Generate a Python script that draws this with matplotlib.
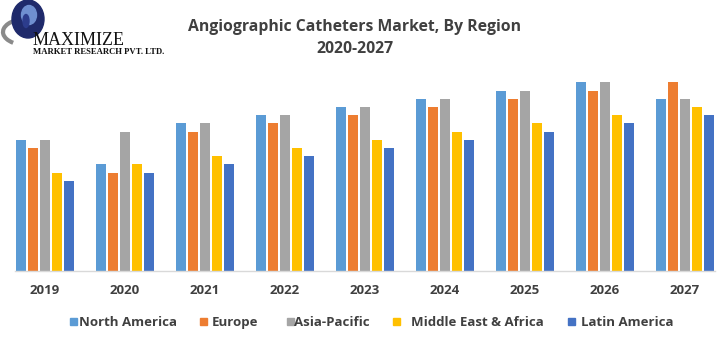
import matplotlib.pyplot as plt
import matplotlib.patches as patches
import numpy as np

# Market size by region (relative units)
years = ["2019", "2020", "2021", "2022", "2023", "2024", "2025", "2026", "2027"]
regions = ["North America", "Europe", "Asia-Pacific", "Middle East & Africa", "Latin America"]
north_america = [16, 13, 18, 19, 20, 21, 22, 23, 21]
europe = [15, 12, 17, 18, 19, 20, 21, 22, 23]
asia_pacific = [16, 17, 18, 19, 20, 21, 22, 23, 21]
mea = [12, 13, 14, 15, 16, 17, 18, 19, 20]
latin_america = [11, 12, 13, 14, 15, 16, 17, 18, 19]
colors = ["#5B9BD5", "#ED7D31", "#A5A5A5", "#FFC000", "#4472C4"]

W, H = 721, 337
fig = plt.figure(figsize=(W / 100, H / 100), dpi=100)
fig.patch.set_facecolor("white")

ax = fig.add_axes([15 / W, (H - 271) / H, 700 / W, 211 / H])
x = np.arange(len(years))
pitch = 0.15
width = 0.125
series = [north_america, europe, asia_pacific, mea, latin_america]
for i, (vals, name, c) in enumerate(zip(series, regions, colors)):
    ax.bar(x + (i - 2) * pitch, vals, width, color=c, label=name)

ax.set_xlim(-0.375, 8.375)
ax.set_ylim(0, 211 / 8.2)
ax.set_xticks(x)
ax.set_xticklabels(years, fontsize=9.5, fontweight="bold", color="#404040", family="Open Sans")
ax.tick_params(axis="x", length=0, pad=9)
ax.set_yticks([])
for s in ["top", "right", "left"]:
    ax.spines[s].set_visible(False)
ax.spines["bottom"].set_color("#D9D9D9")
ax.spines["bottom"].set_linewidth(1)

# title
fig.text(355 / W, 1 - 27 / H, "Angiographic Catheters Market, By Region", ha="center", va="center",
         fontsize=11.3, fontweight="bold", color="#404040", family="Open Sans")
fig.text(355 / W, 1 - 49 / H, "2020-2027", ha="center", va="center",
         fontsize=11.3, fontweight="bold", color="#404040", family="Open Sans")

# legend row, laid out by hand so every label shares one baseline
leg = fig.add_axes([0, 0, 1, 1], zorder=-1)
leg.set_xlim(0, W)
leg.set_ylim(H, 0)
leg.axis("off")
key_x = [70, 200, 287, 393, 568]
text_x = [79, 212, 294, 411, 581]
for kx, tx, name, c in zip(key_x, text_x, regions, colors):
    leg.add_patch(patches.Rectangle((kx, 318), 7, 7, color=c))
    leg.text(tx, 326, name, fontsize=9.5, fontweight="bold", color="#404040",
             family="Open Sans", va="baseline")

# logo
logo = fig.add_axes([0, 1 - 60 / H, 200 / W, 60 / H])
logo.set_xlim(0, 200)
logo.set_ylim(60, 0)
logo.axis("off")
logo.add_patch(patches.Arc((26, 32), 46, 26, theta1=140, theta2=330, color="#8A8A8A", lw=3))
logo.add_patch(patches.Ellipse((28, 19), 32, 38, color="#1F2A6B"))
logo.add_patch(patches.Ellipse((29, 15), 15, 19, color="#6F8FD0"))
logo.add_patch(patches.Ellipse((26, 21), 6, 13, color="#2C3C8C"))
logo.text(33, 45, "MAXIMIZE", fontsize=13, family="Liberation Serif", color="#111111",
          va="baseline")
logo.text(33, 54, "MARKET RESEARCH PVT. LTD.", fontsize=6.2, family="Liberation Serif",
          fontweight="bold", color="#111111", va="baseline")

fig.savefig("out.png", dpi=100)
